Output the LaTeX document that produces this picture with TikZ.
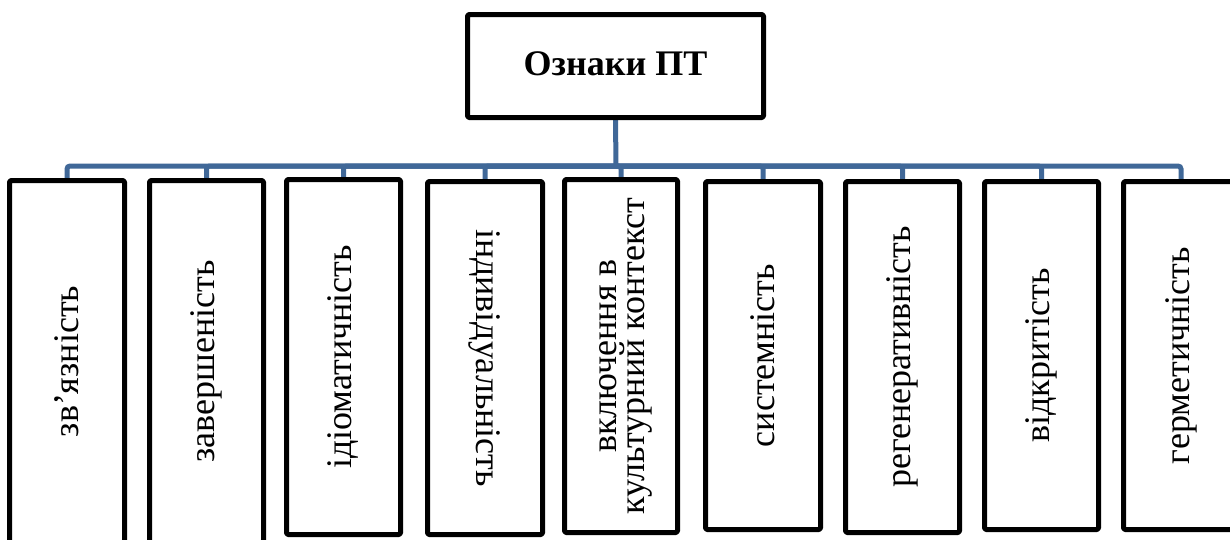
\documentclass[tikz,border=0pt]{standalone}
\usepackage{fontspec}
\setmainfont{Liberation Serif}
\usetikzlibrary{backgrounds}
\definecolor{busblue}{RGB}{64,104,152}
\begin{document}
\begin{tikzpicture}[x=1pt,y=-1pt,
  box/.style={draw=black, fill=white, line width=5pt, line join=round,
    rounded corners=1.5pt, inner sep=0pt},
  lbl/.style={font=\fontsize{36}{28}\selectfont, inner sep=0pt, align=center},
  link/.style={draw=busblue, line width=5pt, rounded corners=3pt}]
\clip (0,0) rectangle (1230,539);

% root box
\node[box, minimum width=296pt, minimum height=103pt] (top) at (615.5,66) {};
\node[font=\fontsize{36}{40}\selectfont\bfseries, inner sep=0pt] (title)
  at (615.5,64) {Ознаки ПТ};

% feature boxes (centre; size is the outer size minus the stroke)
\node[box, minimum width=115pt, minimum height=362pt] (b1) at (67,361.5) {};
\node[box, minimum width=114pt, minimum height=362pt] (b2) at (206.5,361.5) {};
\node[box, minimum width=114pt, minimum height=355pt] (b3) at (343.5,357) {};
\node[box, minimum width=115pt, minimum height=353pt] (b4) at (485,358) {};
\node[box, minimum width=113pt, minimum height=353pt] (b5) at (621,356) {};
\node[box, minimum width=115pt, minimum height=348pt] (b6) at (763,355.5) {};
\node[box, minimum width=114pt, minimum height=351pt] (b7) at (902.5,357) {};
\node[box, minimum width=114pt, minimum height=348pt] (b8) at (1041.5,355.5) {};
\node[box, minimum width=115pt, minimum height=348pt] (b9) at (1181,355.5) {};

% white page, then the stem from the root and the bus to each box
\coordinate (hub) at (616,166);
\begin{scope}[on background layer]
  \fill[white] (0,0) rectangle (1230,539);
  \draw[link] (top.south) -- (hub);
  \foreach \b in {b1,b2,b3,b4,b5,b6,b7,b8,b9}
    \draw[link] (hub) -| (\b.north);
\end{scope}

% labels
\node[lbl, rotate=90]  (t1) at (b1.center) {зв’язність};
\node[lbl, rotate=90]  (t2) at (b2.center) {завершеність};
\node[lbl, rotate=90]  (t3) at (b3.center) {ідіоматичність};
\node[lbl, rotate=-90] (t4) at (b4.center) {індивідуальність};
\node[lbl, rotate=90]  (t5) at ([xshift=5pt]b5.center) {включення в\\культурний контекст};
\node[lbl, rotate=90]  (t6) at (b6.center) {системність};
\node[lbl, rotate=90]  (t7) at (b7.center) {регенеративність};
\node[lbl, rotate=90]  (t8) at (b8.center) {відкритість};
\node[lbl, rotate=90]  (t9) at (b9.center) {герметичність};
\end{tikzpicture}
\end{document}
